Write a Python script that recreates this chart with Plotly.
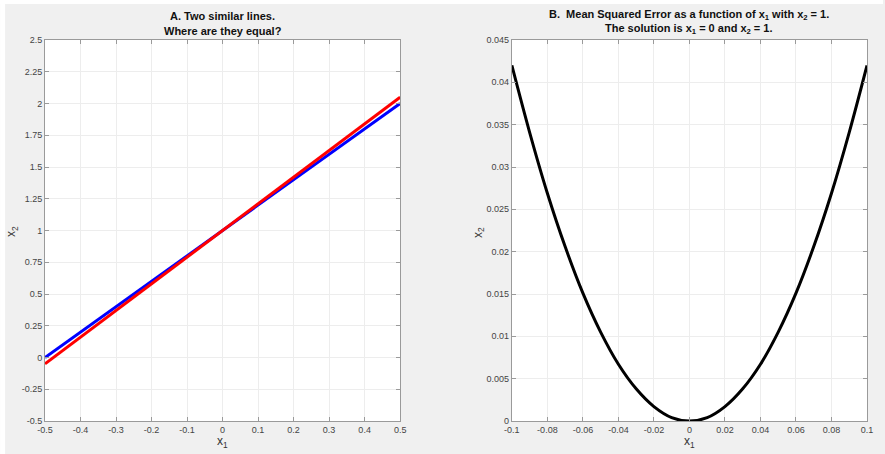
import plotly.graph_objects as go
from plotly.subplots import make_subplots

# Panel A data
line_x = [-0.5, 0.5]
blue_y = [0.0, 2.0]
red_y = [-0.05, 2.05]

# Panel B data
mse_x = [-0.1, -0.09, -0.08, -0.07, -0.06, -0.05, -0.04, -0.03, -0.02, -0.01, 0.0,
         0.01, 0.02, 0.03, 0.04, 0.05, 0.06, 0.07, 0.08, 0.09, 0.1]
mse_y = [0.0420, 0.0341, 0.0269, 0.0206, 0.0151, 0.0105, 0.0067, 0.0038, 0.0017, 0.0004, 0.0,
         0.0004, 0.0017, 0.0038, 0.0067, 0.0105, 0.0151, 0.0206, 0.0269, 0.0341, 0.0420]

ticks_ax = [-0.5, -0.4, -0.3, -0.2, -0.1, 0, 0.1, 0.2, 0.3, 0.4, 0.5]
ticks_ax_lbl = ["-0.5", "-0.4", "-0.3", "-0.2", "-0.1", "0", "0.1", "0.2", "0.3", "0.4", "0.5"]
ticks_ay = [-0.5, -0.25, 0, 0.25, 0.5, 0.75, 1, 1.25, 1.5, 1.75, 2, 2.25, 2.5]
ticks_ay_lbl = ["-0.5", "-0.25", "0", "0.25", "0.5", "0.75", "1", "1.25", "1.5", "1.75", "2", "2.25", "2.5"]
ticks_bx = [-0.1, -0.08, -0.06, -0.04, -0.02, 0, 0.02, 0.04, 0.06, 0.08, 0.1]
ticks_bx_lbl = ["-0.1", "-0.08", "-0.06", "-0.04", "-0.02", "0", "0.02", "0.04", "0.06", "0.08", "0.1"]
ticks_by = [0, 0.005, 0.01, 0.015, 0.02, 0.025, 0.03, 0.035, 0.04, 0.045]
ticks_by_lbl = ["0", "0.005", "0.01", "0.015", "0.02", "0.025", "0.03", "0.035", "0.04", "0.045"]

W, H = 885, 454
L, R, T, B = 45, 16, 40, 33

fig = make_subplots(rows=1, cols=2, horizontal_spacing=(513 - 401) / (W - L - R))
fig.update_xaxes(domain=[0, (401 - L) / (W - L - R)], row=1, col=1)
fig.update_xaxes(domain=[(513 - L) / (W - L - R), 1], row=1, col=2)

fig.add_trace(go.Scatter(x=line_x, y=blue_y, mode="lines", line=dict(color="#0000ff", width=3),
                         showlegend=False), row=1, col=1)
fig.add_trace(go.Scatter(x=line_x, y=red_y, mode="lines", line=dict(color="#ff0000", width=3),
                         showlegend=False), row=1, col=1)
fig.add_trace(go.Scatter(x=mse_x, y=mse_y, mode="lines", line=dict(color="#000000", width=3, shape="spline"),
                         showlegend=False), row=1, col=2)

font = "Liberation Sans, Arial, Helvetica, sans-serif"
axcommon = dict(showline=True, linecolor="#9a9a9a", linewidth=1, mirror="ticks",
                ticks="inside", ticklen=4, tickcolor="#9a9a9a", showgrid=True,
                gridcolor="#ededed", gridwidth=1, zeroline=False,
                tickfont=dict(family=font, size=9, color="#444444"))

fig.update_xaxes(range=[-0.5, 0.5], tickvals=ticks_ax, ticktext=ticks_ax_lbl, row=1, col=1, **axcommon)
fig.update_yaxes(range=[-0.5, 2.5], tickvals=ticks_ay, ticktext=ticks_ay_lbl, row=1, col=1, **axcommon)
fig.update_xaxes(range=[-0.1, 0.1], tickvals=ticks_bx, ticktext=ticks_bx_lbl, row=1, col=2, **axcommon)
fig.update_yaxes(range=[0, 0.045], tickvals=ticks_by, ticktext=ticks_by_lbl, row=1, col=2, **axcommon)

pw = W - L - R
ph = H - T - B

def px(xp):
    return (xp - L) / pw

def py(yp):
    return 1 - (yp - T) / ph

# thin white strips at left and top edges (rest of the page is light gray)
shapes = [
    dict(type="rect", xref="paper", yref="paper", x0=px(0), x1=px(5), y0=py(H), y1=py(0),
         fillcolor="#ffffff", line=dict(width=0), layer="below"),
    dict(type="rect", xref="paper", yref="paper", x0=px(0), x1=px(W), y0=py(4), y1=py(0),
         fillcolor="#ffffff", line=dict(width=0), layer="below"),
]

tfont = dict(family=font, size=11, color="#111111")
lfont = dict(family=font, size=12, color="#333333")
annotations = [
    dict(text="<b>A. Two similar lines.</b>", x=px(223), y=py(16), xref="paper", yref="paper",
         showarrow=False, font=tfont, xanchor="center", yanchor="middle"),
    dict(text="<b>Where are they equal?</b>", x=px(223), y=py(31), xref="paper", yref="paper",
         showarrow=False, font=tfont, xanchor="center", yanchor="middle"),
    dict(text="<b>B.  Mean Squared Error as a function of x<sub>1</sub> with x<sub>2</sub> = 1.</b>",
         x=px(691), y=py(15), xref="paper", yref="paper",
         showarrow=False, font=tfont, xanchor="center", yanchor="middle"),
    dict(text="<b>The solution is x<sub>1</sub> = 0 and x<sub>2</sub> = 1.</b>",
         x=px(691), y=py(29), xref="paper", yref="paper",
         showarrow=False, font=tfont, xanchor="center", yanchor="middle"),
    dict(text="x<sub>1</sub>", x=px(223), y=py(442), xref="paper", yref="paper", showarrow=False,
         font=lfont, xanchor="center", yanchor="middle"),
    dict(text="x<sub>1</sub>", x=px(691), y=py(442), xref="paper", yref="paper", showarrow=False,
         font=lfont, xanchor="center", yanchor="middle"),
    dict(text="x<sub>2</sub>", x=px(12), y=py(232), xref="paper", yref="paper", showarrow=False,
         textangle=-90, font=lfont, xanchor="center", yanchor="middle"),
    dict(text="x<sub>2</sub>", x=px(480), y=py(232), xref="paper", yref="paper", showarrow=False,
         textangle=-90, font=lfont, xanchor="center", yanchor="middle"),
]

fig.update_layout(width=W, height=H, margin=dict(l=L, r=R, t=T, b=B),
                  paper_bgcolor="#f0f0f0", plot_bgcolor="#ffffff",
                  shapes=shapes, annotations=annotations, showlegend=False)

fig.write_html("out.html", config={"displayModeBar": False},
               post_script="document.body.style.margin='0px';document.body.style.overflow='hidden';")
